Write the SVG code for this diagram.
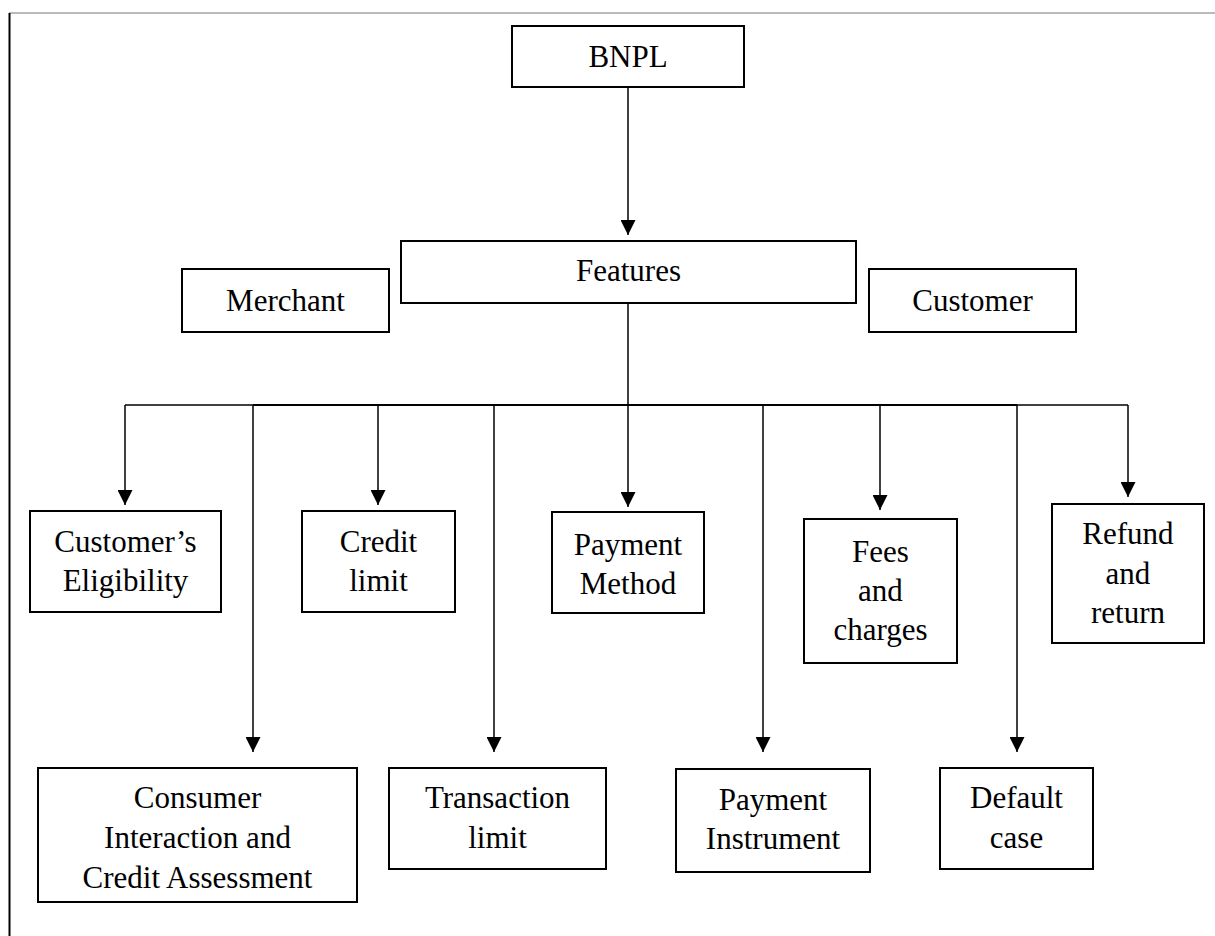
<svg xmlns="http://www.w3.org/2000/svg" width="1215" height="936" viewBox="0 0 1215 936">
<style>
.box{fill:#fff;stroke:#000;stroke-width:2}
.t{font-family:"Liberation Serif","Times New Roman",serif;font-size:31px;fill:#000;text-anchor:middle}
.c{fill:none;stroke:#000;stroke-width:1.5}
.ca{fill:none;stroke:#000;stroke-width:1.5;marker-end:url(#ah)}
</style>
<defs>
<marker id="ah" viewBox="0 0 15 15" refX="15" refY="7.5" markerWidth="15" markerHeight="15" markerUnits="userSpaceOnUse" orient="auto">
<path d="M0,0 L15,7.5 L0,15 z" fill="#000"/>
</marker>
</defs>
<rect width="1215" height="936" fill="#fff"/>
<g id="frame">
<line x1="9" y1="13" x2="1215" y2="13" stroke="#777" stroke-width="1"/>
<line x1="9.5" y1="13" x2="9.5" y2="936" stroke="#000" stroke-width="2"/>
</g>
<g id="connectors">
<path class="ca" d="M628,87 V235"/>
<path class="c" d="M628,303 V405"/>
<path class="c" d="M125,405 H1128"/>
<path d="M253,405 H1017" fill="none" stroke="#000" stroke-width="2.2"/>
<path class="ca" d="M125,405 V505"/>
<path class="ca" d="M253,405 V752"/>
<path class="ca" d="M378,405 V505"/>
<path class="ca" d="M494,405 V752"/>
<path class="ca" d="M628,405 V507"/>
<path class="ca" d="M763,405 V752"/>
<path class="ca" d="M880,405 V510"/>
<path class="ca" d="M1017,405 V752"/>
<path class="ca" d="M1128,405 V497"/>
</g>
<g id="bnpl"><rect class="box" x="512" y="26" width="232" height="61"/><text class="t" x="628" y="67">BNPL</text></g>
<g id="features"><rect class="box" x="401" y="241" width="455" height="62"/><text class="t" x="628.5" y="281">Features</text></g>
<g id="merchant"><rect class="box" x="182" y="269" width="207" height="63"/><text class="t" x="285.5" y="311">Merchant</text></g>
<g id="customer"><rect class="box" x="869" y="269" width="207" height="63"/><text class="t" x="972.5" y="311">Customer</text></g>
<g id="eligibility"><rect class="box" x="30" y="511" width="191" height="101"/><text class="t" x="125.5" y="552">Customer’s</text><text class="t" x="125.5" y="591">Eligibility</text></g>
<g id="credit-limit"><rect class="box" x="302" y="511" width="153" height="101"/><text class="t" x="378.5" y="552">Credit</text><text class="t" x="378.5" y="591">limit</text></g>
<g id="payment-method"><rect class="box" x="552" y="512" width="152" height="101"/><text class="t" x="628" y="555">Payment</text><text class="t" x="628" y="594">Method</text></g>
<g id="fees"><rect class="box" x="804" y="519" width="153" height="144"/><text class="t" x="880.5" y="562">Fees</text><text class="t" x="880.5" y="601">and</text><text class="t" x="880.5" y="640">charges</text></g>
<g id="refund"><rect class="box" x="1052" y="504" width="152" height="139"/><text class="t" x="1128" y="544">Refund</text><text class="t" x="1128" y="584">and</text><text class="t" x="1128" y="623">return</text></g>
<g id="consumer"><rect class="box" x="38" y="768" width="319" height="134"/><text class="t" x="197.5" y="808">Consumer</text><text class="t" x="197.5" y="848">Interaction and</text><text class="t" x="197.5" y="888">Credit Assessment</text></g>
<g id="transaction"><rect class="box" x="389" y="768" width="217" height="101"/><text class="t" x="497.5" y="808">Transaction</text><text class="t" x="497.5" y="848">limit</text></g>
<g id="instrument"><rect class="box" x="676" y="769" width="194" height="103"/><text class="t" x="773" y="810">Payment</text><text class="t" x="773" y="849">Instrument</text></g>
<g id="default"><rect class="box" x="940" y="768" width="153" height="101"/><text class="t" x="1016.5" y="808">Default</text><text class="t" x="1016.5" y="848">case</text></g>
</svg>
